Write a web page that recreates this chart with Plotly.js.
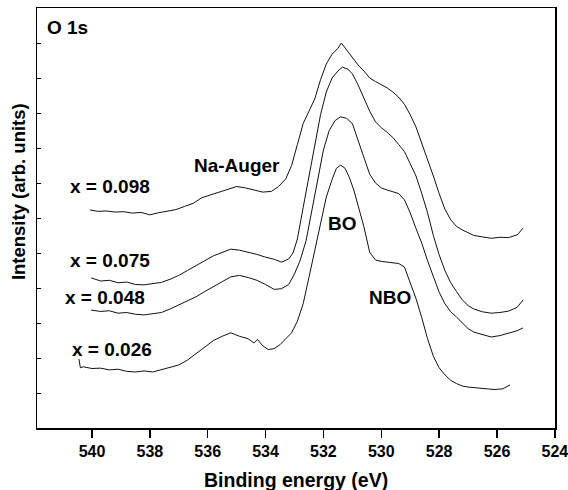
<!DOCTYPE html>
<html>
<head>
<meta charset="utf-8">
<script src="https://cdn.plot.ly/plotly-3.0.1.min.js"></script>
<style>html,body{margin:0;padding:0;background:#fff;}#chart{width:568px;height:490px;}</style>
</head>
<body>
<div id="chart"></div>
<script>
// Binding energy (eV) and intensity (arb. units, offset) for each composition
const be098 = [540.07,539.8,539.5,539.2,538.9,538.6,538.3,538.0,537.7,537.4,537.1,536.8,536.5,536.2,535.9,535.6,535.3,535.0,534.7,534.4,534.1,533.8,533.55,533.3,533.1,532.9,532.7,532.5,532.3,532.1,531.9,531.7,531.5,531.38,531.2,531.0,530.8,530.6,530.4,530.2,530.0,529.8,529.6,529.4,529.2,529.0,528.8,528.6,528.4,528.2,528.0,527.8,527.6,527.4,527.2,527.0,526.8,526.5,526.2,525.9,525.6,525.3,525.1];
const int098 = [6.23,6.19,6.2,6.17,6.18,6.14,6.16,6.09,6.15,6.2,6.24,6.33,6.42,6.58,6.66,6.74,6.82,6.9,6.86,6.8,6.74,6.76,6.9,7.12,7.5,8.1,8.7,9.05,9.4,9.95,10.4,10.68,10.85,11.0,10.8,10.6,10.37,10.2,10.0,9.9,9.82,9.72,9.6,9.45,9.25,8.95,8.6,8.15,7.7,7.2,6.7,6.25,5.95,5.76,5.66,5.58,5.5,5.46,5.42,5.45,5.44,5.52,5.71];

const be075 = [540.03,539.7,539.4,539.1,538.8,538.5,538.2,537.9,537.6,537.3,537.0,536.7,536.4,536.1,535.8,535.5,535.2,534.9,534.6,534.3,534.0,533.7,533.45,533.2,533.05,532.9,532.7,532.5,532.3,532.1,531.9,531.7,531.5,531.34,531.15,531.0,530.8,530.6,530.4,530.2,530.0,529.8,529.6,529.4,529.2,529.0,528.8,528.6,528.4,528.2,528.0,527.8,527.6,527.4,527.2,527.0,526.8,526.5,526.2,525.9,525.6,525.3,525.1];
const int075 = [4.29,4.2,4.22,4.15,4.17,4.1,4.09,4.12,4.16,4.25,4.36,4.5,4.63,4.78,4.92,5.02,5.11,5.08,5.03,4.96,4.88,4.82,4.74,4.83,5.0,5.4,6.3,7.2,8.1,8.95,9.6,10.0,10.2,10.31,10.25,10.12,9.8,9.45,9.05,8.75,8.58,8.45,8.3,8.1,7.9,7.55,7.2,6.7,6.15,5.5,4.95,4.5,4.15,3.9,3.66,3.5,3.4,3.32,3.28,3.3,3.34,3.45,3.66];

const be048 = [540.03,539.7,539.4,539.1,538.8,538.5,538.2,537.9,537.6,537.3,537.0,536.7,536.4,536.1,535.8,535.5,535.2,534.9,534.6,534.3,534.0,533.7,533.45,533.2,533.0,532.8,532.6,532.4,532.2,532.0,531.8,531.6,531.41,531.2,531.0,530.8,530.6,530.4,530.2,530.0,529.8,529.6,529.4,529.2,529.0,528.8,528.6,528.4,528.2,528.0,527.8,527.6,527.4,527.2,527.0,526.8,526.5,526.2,525.9,525.6,525.3,525.1];
const int048 = [3.37,3.33,3.35,3.28,3.3,3.25,3.23,3.26,3.3,3.4,3.52,3.62,3.75,3.9,4.05,4.18,4.32,4.36,4.3,4.22,4.1,3.96,3.98,4.1,4.4,4.8,5.35,6.25,7.1,7.94,8.5,8.78,8.89,8.85,8.7,8.2,7.75,7.25,7.0,6.86,6.8,6.74,6.7,6.52,6.15,5.7,5.28,4.78,4.32,3.88,3.55,3.32,3.17,3.0,2.84,2.74,2.66,2.6,2.64,2.72,2.78,2.86];

const be026 = [540.45,540.4,540.3,540.0,539.7,539.4,539.1,538.8,538.5,538.2,537.9,537.6,537.3,537.0,536.7,536.4,536.1,535.8,535.5,535.2,534.9,534.6,534.4,534.28,534.1,533.9,533.7,533.5,533.3,533.1,532.9,532.7,532.5,532.3,532.1,531.9,531.7,531.55,531.41,531.25,531.1,530.95,530.8,530.6,530.4,530.2,530.0,529.8,529.6,529.4,529.2,529.0,528.8,528.6,528.4,528.2,528.0,527.8,527.6,527.4,527.2,527.0,526.7,526.4,526.1,525.8,525.55];
const int026 = [1.97,1.72,1.75,1.7,1.71,1.66,1.68,1.62,1.6,1.63,1.6,1.66,1.72,1.8,1.94,2.12,2.3,2.5,2.62,2.72,2.62,2.55,2.43,2.53,2.35,2.24,2.27,2.38,2.55,2.72,3.05,3.55,4.3,5.05,5.85,6.6,7.1,7.42,7.51,7.42,7.15,6.8,6.35,5.75,5.02,4.8,4.76,4.74,4.72,4.7,4.6,4.15,3.7,3.15,2.55,2.05,1.72,1.52,1.36,1.27,1.2,1.17,1.14,1.13,1.1,1.12,1.23];

const xTicks = [540,538,536,534,532,530,528,526,524];
const seriesLabels = ["x = 0.098","x = 0.075","x = 0.048","x = 0.026"];

const FONT = "Liberation Sans, Arial, Helvetica, sans-serif";
const lineStyle = {color:"#111", width:1};

const traces = [
  {x:be098, y:int098, name:seriesLabels[0]},
  {x:be075, y:int075, name:seriesLabels[1]},
  {x:be048, y:int048, name:seriesLabels[2]},
  {x:be026, y:int026, name:seriesLabels[3]}
].map(t => Object.assign(t, {type:"scatter", mode:"lines", line:lineStyle, hoverinfo:"skip"}));

function label(text, x, y, size) {
  return {text:text, x:x, y:y, xref:"x", yref:"y", showarrow:false, xanchor:"center", yanchor:"middle",
          font:{family:FONT, size:size||19, color:"#000", weight:"bold"}};
}

const annotations = [
  label("O 1s", 540.86, 11.43),
  label("Na-Auger", 534.97, 7.51),
  label(seriesLabels[0], 539.38, 6.89),
  label(seriesLabels[1], 539.38, 4.80),
  label(seriesLabels[2], 539.55, 3.74),
  label(seriesLabels[3], 539.31, 2.23),
  label("BO", 531.34, 5.83),
  label("NBO", 529.69, 3.74),
  {text:"Intensity (arb. units)", xref:"paper", yref:"paper", x:-0.0367, y:0.564, textangle:-90,
   showarrow:false, xanchor:"center", yanchor:"middle", font:{family:FONT, size:18.5, color:"#000", weight:"bold"}},
  {text:"Binding energy (eV)", xref:"paper", yref:"paper", x:0.5, y:-0.124,
   showarrow:false, xanchor:"center", yanchor:"middle", font:{family:FONT, size:19.5, color:"#000", weight:"bold"}}
];

const layout = {
  width:568, height:490,
  margin:{l:37, r:13, t:8, b:62},
  paper_bgcolor:"#fff", plot_bgcolor:"#fff",
  showlegend:false,
  xaxis:{range:[541.9,523.995], tickvals:xTicks, ticktext:xTicks.map(String),
         ticks:"outside", ticklen:8, tickwidth:1.5, tickcolor:"#000",
         ticklabeloverflow:"allow",
         showline:true, linecolor:"#000", linewidth:1.5, mirror:true,
         showgrid:false, zeroline:false,
         tickfont:{family:FONT, size:16, color:"#000", weight:"bold"}},
  yaxis:{range:[0,12], dtick:1, tick0:0, ticks:"inside", ticklen:4, tickwidth:1, tickcolor:"#000",
         showticklabels:false, showline:true, linecolor:"#000", linewidth:1.5, mirror:true,
         showgrid:false, zeroline:false},
  annotations:annotations
};

Plotly.newPlot("chart", traces, layout, {staticPlot:true, displayModeBar:false});
</script>
</body>
</html>
